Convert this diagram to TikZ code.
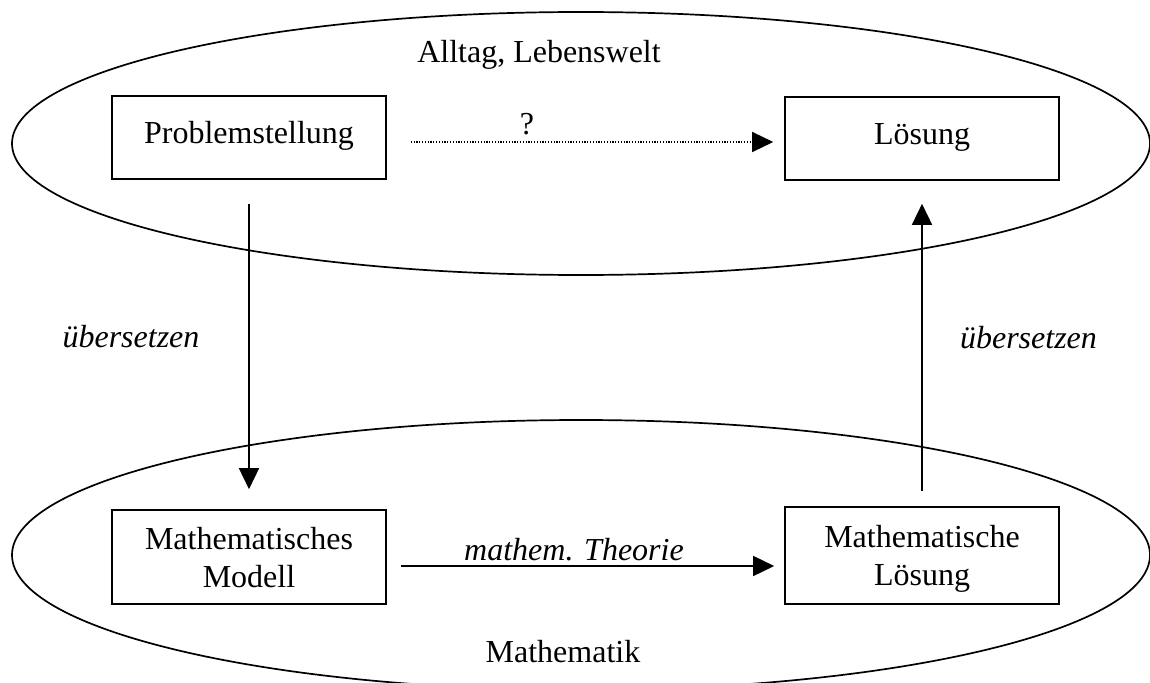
\documentclass[tikz,border=0pt]{standalone}
\usepackage{fontspec}
\setmainfont{Liberation Serif}
\usetikzlibrary{arrows.meta}
\begin{document}
\begin{tikzpicture}[x=1pt,y=-1pt,
  every node/.style={font=\fontsize{32}{38}\selectfont, inner sep=0pt},
  box/.style={draw, line width=1.6pt, minimum width=274pt, minimum height=83pt, text height=22pt, text depth=11pt},
  boxtwo/.style={draw, line width=1.6pt, minimum width=274pt, align=center, text height=60pt, text depth=0pt},
  outline/.style={line width=1.7pt},
  conn/.style={line width=1.5pt, -{Triangle[length=21pt,width=20pt]}},
  dotconn/.style={conn, line width=1.3pt, dash pattern=on 1.2pt off 1.6pt},
  lbl/.style={anchor=base},
  itlbl/.style={anchor=base, font=\fontsize{32}{38}\selectfont\itshape}]
\useasboundingbox (0,0) rectangle (1150,682);
% regions
\draw[outline] (581,143.5) ellipse [x radius=569pt, y radius=131.5pt];
\draw[outline] (581,555) ellipse [x radius=569pt, y radius=135pt];
\node[lbl] (alltag) at (539,63) {Alltag, Lebenswelt};
\node[lbl] (mathe) at (563,662) {Mathematik};
% boxes
\node[box] (ps) at (249,137.5) {Problemstellung};
\node[box] (ls) at (922,138.5) {Lösung};
\node[boxtwo, minimum height=94pt] (mm) at (249,557) {Mathematisches\\Modell};
\node[boxtwo, minimum height=97pt] (ml) at (922,555.5) {Mathematische\\Lösung};
% connectors
\draw[dotconn] ([xshift=24pt,yshift=-4.5pt]ps.east) -- ([xshift=-11pt,yshift=-3.5pt]ls.west);
\draw[conn] ([yshift=-24pt]ps.south) -- ([yshift=20pt]mm.north);
\draw[conn] ([yshift=15pt]ml.north) -- ([yshift=-23pt]ls.south);
\draw[conn] ([xshift=14pt,yshift=-9pt]mm.east) -- ([xshift=-10pt,yshift=-10.5pt]ml.west);
% labels
\node[lbl] (q) at (527,135) {?};
\node[itlbl] (ueb1) at (131,347) {übersetzen};
\node[itlbl] (ueb2) at (1028.5,348) {übersetzen};
\node[itlbl] (theo) at (574,560) {mathem. Theorie};
\end{tikzpicture}
\end{document}
